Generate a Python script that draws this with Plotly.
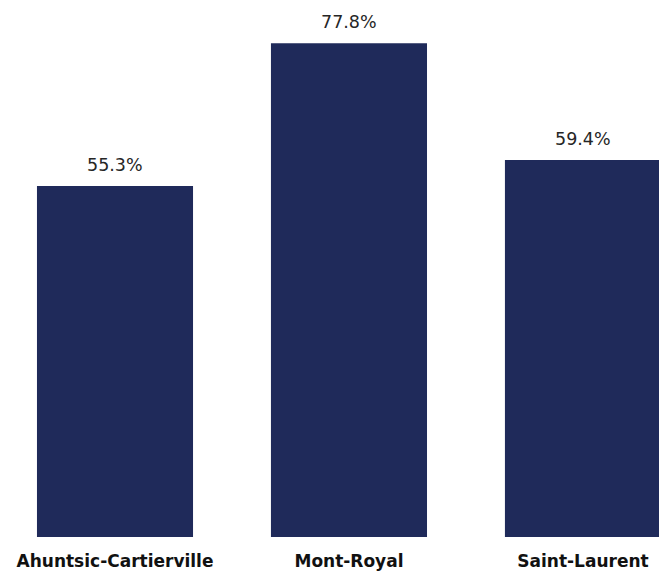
import plotly.graph_objects as go

categories = ["Ahuntsic-Cartierville", "Mont-Royal", "Saint-Laurent"]
values = [55.3, 77.8, 59.4]
labels = ["55.3%", "77.8%", "59.4%"]

fig = go.Figure()
fig.add_trace(go.Bar(
    x=categories, y=values,
    marker=dict(color="#1F2A5A", line=dict(width=0)),
    width=0.667,
    hoverinfo="skip",
))
for c, v, t in zip(categories, values, labels):
    fig.add_annotation(x=c, y=v, text=t, showarrow=False, yanchor="bottom",
                       yshift=9, font=dict(family="DejaVu Sans", size=17.5, color="#262626"))

fig.update_layout(
    width=659, height=575,
    margin=dict(l=0, r=0, t=0, b=38),
    plot_bgcolor="white", paper_bgcolor="white",
    showlegend=False,
    xaxis=dict(range=[-0.4915, 2.325], showgrid=False, zeroline=False, showline=False,
               ticks="", ticklabelstandoff=12,
               tickfont=dict(family="DejaVu Sans", size=17, color="#111111", weight="bold")),
    yaxis=dict(range=[0, 84.6], visible=False),
)
fig.write_html("out.html")
